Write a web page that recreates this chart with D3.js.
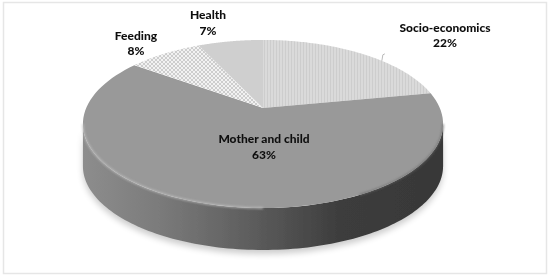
<!DOCTYPE html>
<html><head><meta charset="utf-8">
<script src="https://cdnjs.cloudflare.com/ajax/libs/d3/7.8.5/d3.min.js"></script>
<style>html,body{margin:0;background:#fff}svg{display:block}text{font-family:Lato,"Open Sans",sans-serif;font-weight:900;font-size:12px;fill:#111;text-anchor:middle}</style>
</head><body><svg id="c" width="550" height="276"></svg>
<script>
const categories = ["Socio-economics","Mother and child","Feeding","Health"];
const shares = [22,63,8,7];

const W=550,H=276,cx=263,cy=108,a=176.8,b=81,k=0.19,depth=42;
const svg=d3.select("#c");
const proj=t=>{const u=Math.sin(t),v=-Math.cos(t),d=1-k*v;return [cx+a*u/d,cy+b*v/d];};
const sample=(s,e,n=90)=>d3.range(n+1).map(i=>proj(s+(e-s)*i/n));
const line=d3.line();
const pie=d3.pie().sort(null).value(d=>d);
const arcs=pie(shares);
const defs=svg.append("defs");

const pV=defs.append("pattern").attr("id","pV").attr("patternUnits","userSpaceOnUse").attr("width",3).attr("height",3);
pV.append("rect").attr("width",3).attr("height",3).attr("fill","#dadada");
pV.append("rect").attr("width",1).attr("height",3).attr("fill","#cdcdcd");
const pX=defs.append("pattern").attr("id","pX").attr("patternUnits","userSpaceOnUse").attr("width",4).attr("height",4);
pX.append("rect").attr("width",4).attr("height",4).attr("fill","#f2f2f2");
pX.append("path").attr("d","M0 0L4 4M4 0L0 4").attr("stroke","#c4c4c4").attr("stroke-width",.8);
const fills=d3.scaleOrdinal().domain(categories).range(["url(#pV)","#999999","url(#pX)","#cfcfcf"]);

const g=defs.append("linearGradient").attr("id","side").attr("x1",0).attr("x2",1).attr("y1",0).attr("y2",0);
[[0,"#8d8d8d"],[.2,"#7c7c7c"],[.42,"#636363"],[.6,"#4c4c4c"],[.72,"#3c3c3c"],[1,"#383838"]].forEach(s=>g.append("stop").attr("offset",s[0]).attr("stop-color",s[1]));
const bl=defs.append("filter").attr("id","blur").attr("x","-10%").attr("y","-10%").attr("width","120%").attr("height","130%");
bl.append("feGaussianBlur").attr("stdDeviation",3);
const soft=defs.append("filter").attr("id","soft");
soft.append("feGaussianBlur").attr("stdDeviation",.9);
const fine=defs.append("filter").attr("id","fine");
fine.append("feGaussianBlur").attr("stdDeviation",.35);

svg.append("rect").attr("x",3.5).attr("y",2.5).attr("width",W-7).attr("height",H-5).attr("fill","#fff").attr("stroke","#e6e6e6").attr("stroke-width",1.5);

const chart=svg.append("g").attr("filter","url(#fine)");
const tilt=Math.asin(k);
const front=sample(Math.PI/2+tilt,3*Math.PI/2-tilt,120);
const sidePts=front.concat(front.slice().reverse().map(p=>[p[0],p[1]+depth]));
chart.append("path").attr("d",line(sidePts)+"Z").attr("fill","#000").attr("opacity",.2).attr("transform","translate(0,4)").attr("filter","url(#blur)");
chart.append("path").attr("d",line(sidePts)+"Z").attr("fill","url(#side)");

chart.selectAll("path.slice").data(arcs).join("path").attr("class","slice")
  .attr("d",d=>line([[cx,cy],...sample(d.startAngle,d.endAngle)])+"Z")
  .attr("fill",(d,i)=>fills(categories[i]));

const rimL=sample(Math.PI,Math.PI*1.5-tilt,70);
chart.append("path").attr("d",line(rimL)).attr("fill","none").attr("stroke","#c4c4c4").attr("stroke-width",1.3).attr("filter","url(#soft)");
const rimR=sample(Math.PI/2+tilt,Math.PI*.85,50);
chart.append("path").attr("d",line(rimR)).attr("fill","none").attr("stroke","#666").attr("stroke-width",1.2).attr("filter","url(#soft)");

const leaderEnd=proj(arcs[0].startAngle+(arcs[0].endAngle-arcs[0].startAngle)*0.62);
chart.append("path").attr("d",line([leaderEnd,[leaderEnd[0]+1,leaderEnd[1]-6],[leaderEnd[0]+3,leaderEnd[1]-7]])).attr("fill","none").attr("stroke","#a8a8a8").attr("stroke-width",.8);

const labels=[[445,32,47],[264,143,159],[136,40,55],[208,19,35]];
categories.forEach((c,i)=>{
  const [x,y1,y2]=labels[i];
  chart.append("text").attr("x",x).attr("y",y1).text(c);
  chart.append("text").attr("x",x).attr("y",y2).text(shares[i]+"%");
});
</script></body></html>
